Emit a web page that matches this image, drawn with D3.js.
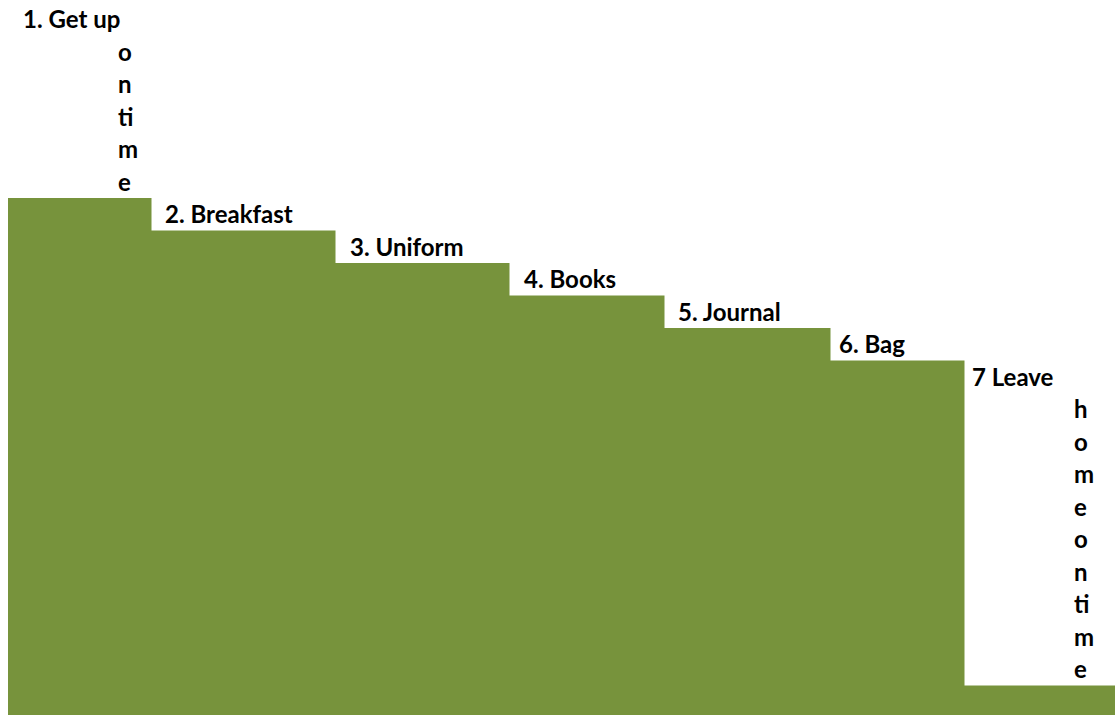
<!DOCTYPE html>
<html>
<head>
<meta charset="utf-8">
<script src="https://cdn.jsdelivr.net/npm/d3@7"></script>
<style>
  html, body { margin: 0; padding: 0; background: #fff; }
  svg { display: block; }
</style>
</head>
<body>
<svg id="chart" width="1115" height="715"></svg>
<script>
// Steps of the morning routine (value = height of each step)
const stepValues = [16, 15, 14, 13, 12, 11, 1];
// relative width of each step
const stepWidths = [143, 184, 174, 155, 166, 134, 151];
// label text, one entry per line (as wrapped in the original)
const stepLabels = [
  ['1. Get up', 'o', 'n', 'ti', 'm', 'e'],
  ['2. Breakfast'],
  ['3. Uniform'],
  ['4. Books'],
  ['5. Journal'],
  ['6. Bag'],
  ['7 Leave', 'h', 'o', 'm', 'e', 'o', 'n', 'ti', 'm', 'e']
];

const width = 1115, height = 715;
const svg = d3.select('#chart');

// cumulative start of each step
const starts = [];
stepWidths.reduce((acc, w) => { starts.push(acc); return acc + w; }, 0);
const total = d3.sum(stepWidths);

const xScale = d3.scaleLinear().domain([0, total]).range([8, 8 + total]);
const yScale = d3.scaleLinear().domain([0, 16]).range([718, 198]);

const steps = stepValues.map((v, i) => ({
  value: v,
  x0: starts[i],
  x1: starts[i] + stepWidths[i],
  lines: stepLabels[i]
}));

svg.append('g')
  .selectAll('rect')
  .data(steps)
  .enter().append('rect')
  .attr('x', d => xScale(d.x0))
  .attr('width', d => xScale(d.x1) - xScale(d.x0) + 0.5)
  .attr('y', d => yScale(d.value))
  .attr('height', d => yScale(0) - yScale(d.value))
  .attr('fill', '#77933C');

// label padding from step start (first line / wrapped lines)
const firstPad = [15, 14, 15, 15, 14, 9, 8];
const wrapPad = 110;

const labels = svg.append('g')
  .style('font-family', 'Lato, "Open Sans", sans-serif')
  .style('font-weight', 'bold')
  .style('font-size', '24px')
  .attr('fill', '#000');

steps.forEach((d, i) => {
  const n = d.lines.length;
  d.lines.forEach((line, j) => {
    const k = n - 1 - j; // rows above the step top
    labels.append('text')
      .attr('x', xScale(d.x0) + (j === 0 ? firstPad[i] : wrapPad))
      .attr('y', yScale(d.value + k) - 7.5)
      .text(line);
  });
});
</script>
</body>
</html>
